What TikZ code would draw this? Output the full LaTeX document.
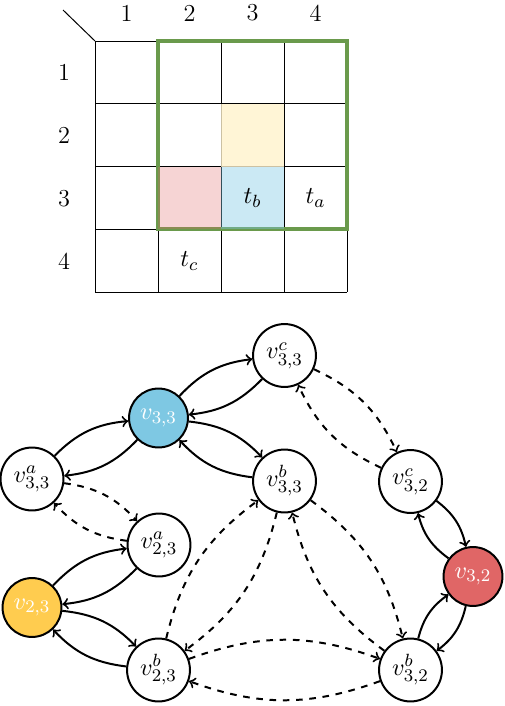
\documentclass[tikz,border=0pt]{standalone}
\usetikzlibrary{arrows}
\definecolor{nodeblue}{RGB}{126,200,227}
\definecolor{nodeyellow}{RGB}{255,204,79}
\definecolor{nodered}{RGB}{224,102,102}
\definecolor{cellyellow}{RGB}{255,242,204}
\definecolor{cellpink}{RGB}{244,204,204}
\definecolor{cellblue}{RGB}{203,233,244}
\definecolor{framegreen}{RGB}{106,154,76}
\begin{document}
\begin{tikzpicture}[x=0.4516pt,y=-0.4516pt,
  every node/.style={font=\fontsize{11}{13.5}\selectfont},
  vtx/.style={circle,draw,line width=0.9pt,inner sep=0pt,minimum size=28.4pt,fill=white},
  cvtx/.style={circle,draw,line width=0.9pt,inner sep=0pt,minimum size=26.6pt,text=white},
  edge/.style={->,line width=0.9pt,bend left=20},
  dedge/.style={->,line width=0.9pt,bend left=20,dashed},
  lbl/.style={inner sep=0pt}]
\useasboundingbox (0,0) rectangle (504,706);
% table
\foreach \i in {0,...,4} {
  \draw[line width=0.45pt] (95+63*\i,41) -- (95+63*\i,292);
  \draw[line width=0.45pt] (95,41+62.75*\i) -- (347,41+62.75*\i);
}
\draw[line width=0.45pt] (63,10) -- (95,41);
\draw[framegreen,line width=1.4pt] (158,41) rectangle (347,229);
\fill[cellyellow,opacity=0.8] (221,104) rectangle (284,167);
\fill[nodered,opacity=0.28] (158,167) rectangle (221,229);
\fill[nodeblue,opacity=0.4] (221,167) rectangle (284,229);
\foreach \c in {1,...,4} {
  \node[lbl] (col\c) at (63.5+63*\c,13) {\c};
  \node[lbl] (row\c) at (64,10+62.75*\c) {\c};
}
\node[lbl] (tb) at (252.5,198) {$t_b$};
\node[lbl] (ta) at (315.5,198) {$t_a$};
\node[lbl] (tc) at (189.5,261) {$t_c$};
% graph
\node[cvtx,fill=nodeblue] (v33) at (158.5,418) {$v_{3,3}$};
\node[vtx] (v33a) at (32,479) {$v^a_{3,3}$};
\node[vtx] (v33c) at (284.5,355.5) {$v^c_{3,3}$};
\node[vtx] (v33b) at (284.5,481) {$v^b_{3,3}$};
\node[vtx] (v32c) at (410.5,481.5) {$v^c_{3,2}$};
\node[vtx] (v23a) at (159,545) {$v^a_{2,3}$};
\node[cvtx,fill=nodeyellow] (v23) at (32,607.5) {$v_{2,3}$};
\node[cvtx,fill=nodered] (v32) at (473,576.5) {$v_{3,2}$};
\node[vtx] (v23b) at (158.5,670) {$v^b_{2,3}$};
\node[vtx] (v32b) at (410.5,670) {$v^b_{3,2}$};
% solid
\draw[edge] (v33a) to (v33);
\draw[edge] (v33) to (v33a);
\draw[edge] (v33) to (v33c);
\draw[edge] (v33c) to (v33);
\draw[edge] (v33) to (v33b);
\draw[edge] (v33b) to (v33);
\draw[edge] (v23) to (v23a);
\draw[edge] (v23a) to (v23);
\draw[edge] (v23) to (v23b);
\draw[edge] (v23b) to (v23);
\draw[edge] (v32c) to (v32);
\draw[edge] (v32) to (v32c);
\draw[edge] (v32b) to (v32);
\draw[edge] (v32) to (v32b);
% dashed
\draw[dedge] (v33a) to (v23a);
\draw[dedge] (v23a) to (v33a);
\draw[dedge] (v33c) to (v32c);
\draw[dedge] (v32c) to (v33c);
\draw[dedge] (v23b) to (v33b);
\draw[dedge] (v33b) to (v23b);
\draw[dedge] (v33b) to (v32b);
\draw[dedge] (v32b) to (v33b);
\draw[dedge] (v23b) to (v32b);
\draw[dedge] (v32b) to (v23b);
\end{tikzpicture}
\end{document}
